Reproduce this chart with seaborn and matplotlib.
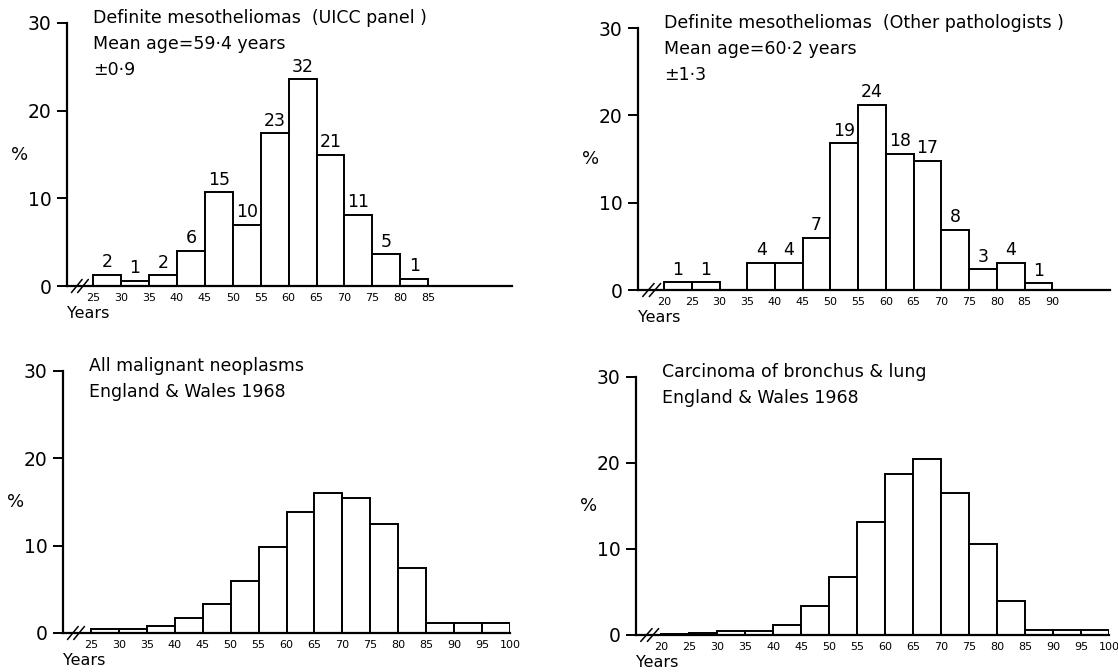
import numpy as np
import pandas as pd
import matplotlib
matplotlib.use("Agg")
import matplotlib.pyplot as plt
import seaborn as sns

# ---------------- data ----------------
# Panel 1: Definite mesotheliomas (UICC panel)
uicc_edges = [25, 30, 35, 40, 45, 50, 55, 60, 65, 70, 75, 80, 85]
uicc_pct = [1.3, 0.6, 1.2, 4.0, 10.7, 7.0, 17.4, 23.6, 15.0, 8.1, 3.6, 0.8]
uicc_n = [2, 1, 2, 6, 15, 10, 23, 32, 21, 11, 5, 1]

# Panel 2: Definite mesotheliomas (Other pathologists)
other_edges = [20, 25, 30, 35, 40, 45, 50, 55, 60, 65, 70, 75, 80, 85, 90]
other_pct = [0.9, 0.9, 0.0, 3.1, 3.1, 6.0, 16.8, 21.2, 15.6, 14.8, 6.9, 2.4, 3.1, 0.8]
other_n = [1, 1, None, 4, 4, 7, 19, 24, 18, 17, 8, 3, 4, 1]

# Panel 3: All malignant neoplasms, England & Wales 1968
allmn_edges = [25, 30, 35, 40, 45, 50, 55, 60, 65, 70, 75, 80, 85, 90, 95, 100]
allmn_pct = [0.5, 0.5, 0.8, 1.7, 3.3, 6.0, 9.9, 13.9, 16.0, 15.5, 12.5, 7.5, 1.1, 1.1, 1.1]

# Panel 4: Carcinoma of bronchus & lung, England & Wales 1968
lung_edges = [20, 25, 30, 35, 40, 45, 50, 55, 60, 65, 70, 75, 80, 85, 90, 95, 100]
lung_pct = [0.1, 0.2, 0.5, 0.5, 1.2, 3.4, 6.7, 13.1, 18.7, 20.5, 16.5, 10.6, 4.0, 0.6, 0.6, 0.6]

titles = [
    ["Definite mesotheliomas  (UICC panel )", "Mean age=59·4 years", "±0·9"],
    ["Definite mesotheliomas  (Other pathologists )", "Mean age=60·2 years", "±1·3"],
    ["All malignant neoplasms", "England & Wales 1968"],
    ["Carcinoma of bronchus & lung", "England & Wales 1968"],
]
y_ticks = [0, 10, 20, 30]
y_label = "%"
x_label = "Years"

# ---------------- style ----------------
sns.set_theme(style="white")
plt.rcParams["font.family"] = ["DejaVu Sans"]
plt.rcParams["text.color"] = "black"
plt.rcParams["xtick.color"] = "black"
plt.rcParams["ytick.color"] = "black"
plt.rcParams["xtick.labelcolor"] = "black"
plt.rcParams["ytick.labelcolor"] = "black"

W, H = 1118, 672
fig = plt.figure(figsize=(W / 100, H / 100), dpi=100)
fig.patch.set_facecolor("white")

# (left px, right px, px of y=30, px of y=0, xmin, xmax)
layout = [
    (67, 512, 23, 286, 20.3, 100.0),
    (638, 1110, 28, 290, 15.3, 100.4),
    (63, 510, 371, 633, 20.0, 100.0),
    (636, 1109, 377, 635, 15.5, 100.0),
]
panels = [
    (uicc_edges, uicc_pct, uicc_n),
    (other_edges, other_pct, other_n),
    (allmn_edges, allmn_pct, None),
    (lung_edges, lung_pct, None),
]

LW = 1.4
for i, ((lpx, rpx, tpx, bpx, xmin, xmax), (edges, pct, counts)) in enumerate(zip(layout, panels)):
    ax = fig.add_axes([lpx / W, 1 - bpx / H, (rpx - lpx) / W, (bpx - tpx) / H])
    ax.set_facecolor("none")
    edge_list = [float(e) for e in edges]
    mids = [(a + b) / 2 for a, b in zip(edge_list[:-1], edge_list[1:])]
    df = pd.DataFrame({"age": mids, "pct": pct})
    sns.histplot(data=df, x="age", weights="pct", bins=edge_list, ax=ax,
                 stat="count", color="white", alpha=1.0,
                 edgecolor="black", linewidth=LW, legend=False)
    ax.set_xlim(xmin, xmax)
    ax.set_ylim(0, 30)
    for s in ["top", "right"]:
        ax.spines[s].set_visible(False)
    for s in ["left", "bottom"]:
        ax.spines[s].set_linewidth(1.6)
        ax.spines[s].set_color("black")
    ax.set_xlabel("")
    ax.set_ylabel("")
    # y ticks
    ax.set_yticks(y_ticks)
    ax.set_yticklabels([str(t) for t in y_ticks], fontsize=13.5, color="black")
    ax.tick_params(axis="y", direction="out", length=7, width=1.4, pad=4, left=True, colors="black")
    # x tick labels at bin edges
    ax.set_xticks(edge_list)
    ax.set_xticklabels([str(int(e)) for e in edge_list], fontsize=8, color="black")
    ax.tick_params(axis="x", length=0, pad=5, bottom=False, colors="black")
    # % label
    ax.text(-47 / (rpx - lpx), 0.5, y_label, transform=ax.transAxes,
            fontsize=13, ha="center", va="center", color="black")
    # Years label
    ax.text(0.0, -0.105, x_label, transform=ax.transAxes, fontsize=11.5,
            ha="left", va="center", color="black")
    # axis break marks
    for dx in (0.022, 0.036):
        ax.plot([dx - 0.012, dx + 0.012], [-0.025, 0.025], transform=ax.transAxes,
                color="black", lw=1.1, clip_on=False)
    # titles
    pxu = (bpx - tpx) / 30.0
    pxx = (rpx - lpx) / (xmax - xmin)
    tx = xmin + 26 / pxx
    for j, line in enumerate(titles[i]):
        ax.text(tx, 30 + 5 / pxu - j * 26 / pxu, line, fontsize=12.5,
                ha="left", va="center", color="black")
    # bar count labels
    if counts is not None:
        for m, h, c in zip(mids, pct, counts):
            if c is None:
                continue
            ax.text(m, h + 0.4, str(c), fontsize=12.5, ha="center", va="bottom",
                    color="black")

fig.savefig("out.png", dpi=100, facecolor="white")
